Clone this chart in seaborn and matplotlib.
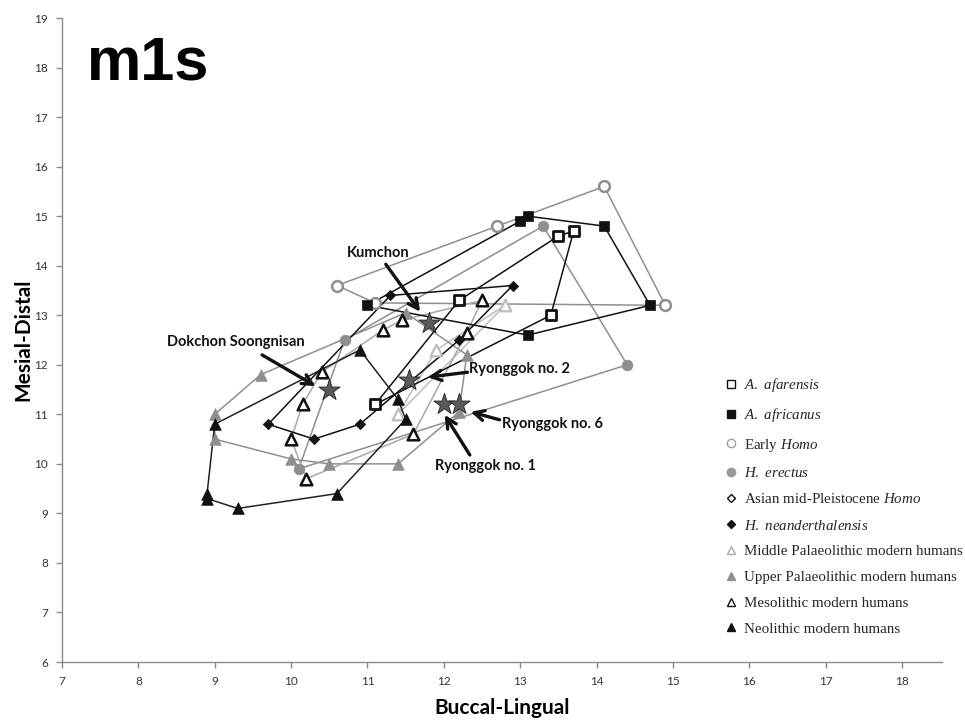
import matplotlib
matplotlib.use("Agg")
import matplotlib.pyplot as plt
import seaborn as sns
import numpy as np
import pandas as pd
from matplotlib.lines import Line2D

# Lower first molar (m1) crown diameters, mm.
# BL = buccal-lingual breadth, MD = mesial-distal length; each group is an outline in drawing order.
afarensis_bl = [11.1, 12.2, 13.5, 13.7, 13.4]
afarensis_md = [11.2, 13.3, 14.6, 14.7, 13.0]
africanus_bl = [11.0, 13.0, 13.1, 14.1, 14.7, 13.1]
africanus_md = [13.2, 14.9, 15.0, 14.8, 13.2, 12.6]
early_homo_bl = [10.6, 12.7, 14.1, 14.9, 11.1]
early_homo_md = [13.6, 14.8, 15.6, 13.2, 13.25]
erectus_bl = [10.7, 13.3, 14.4, 10.1]
erectus_md = [12.5, 14.8, 12.0, 9.9]
neander_bl = [9.7, 10.3, 10.9, 12.2, 12.9, 11.3]
neander_md = [10.8, 10.5, 10.8, 12.5, 13.6, 13.4]
mid_pal_bl = [11.4, 11.9, 12.8]
mid_pal_md = [11.0, 12.3, 13.2]
up_pal_bl = [9.0, 9.6, 11.5, 12.3, 12.2, 11.4, 10.5, 10.0, 9.0]
up_pal_md = [11.0, 11.8, 13.05, 12.2, 11.05, 10.0, 10.0, 10.1, 10.5]
meso_bl = [10.2, 10.0, 10.15, 10.4, 11.2, 11.45, 12.5, 12.3, 11.6]
meso_md = [9.7, 10.5, 11.2, 11.85, 12.7, 12.9, 13.3, 12.65, 10.6]
neo_bl = [9.0, 10.9, 11.4, 11.5, 10.6, 9.3, 8.9, 8.9]
neo_md = [10.8, 12.3, 11.3, 10.9, 9.4, 9.1, 9.3, 9.4]

# Korean specimens
specimens = ["Kumchon", "Dokchon Soongnisan", "Ryonggok no. 2", "Ryonggok no. 1", "Ryonggok no. 6"]
spec_bl = [11.8, 10.5, 11.55, 12.0, 12.2]
spec_md = [12.85, 11.5, 11.7, 11.2, 11.2]

legend_labels = [
    r"$\mathit{A.\ afarensis}$",
    r"$\mathit{A.\ africanus}$",
    r"Early $\mathit{Homo}$",
    r"$\mathit{H.\ erectus}$",
    r"Asian mid-Pleistocene $\mathit{Homo}$",
    r"$\mathit{H.\ neanderthalensis}$",
    "Middle Palaeolithic modern humans",
    "Upper Palaeolithic modern humans",
    "Mesolithic modern humans",
    "Neolithic modern humans",
]

sns.set_theme(style="ticks")
plt.rcParams["font.family"] = ["Lato", "DejaVu Sans"]
plt.rcParams["mathtext.fontset"] = "custom"
plt.rcParams["mathtext.it"] = "Liberation Serif:italic"
plt.rcParams["mathtext.rm"] = "Liberation Serif"

BLACK = "#111111"
GRAY = "#8f8f8f"
LIGHT = "#bdbdbd"

# (bl, md, marker, size, face, edge, edge width, line colour)
groups = [
    (early_homo_bl, early_homo_md, "o", 60, "white", GRAY, 1.8, GRAY),
    (erectus_bl, erectus_md, "o", 60, GRAY, GRAY, 0.5, GRAY),
    (mid_pal_bl, mid_pal_md, "^", 70, "white", LIGHT, 1.6, LIGHT),
    (up_pal_bl, up_pal_md, "^", 70, GRAY, GRAY, 0.5, GRAY),
    (meso_bl, meso_md, "^", 70, "white", BLACK, 1.8, "#a8a8a8"),
    (neo_bl, neo_md, "^", 70, BLACK, BLACK, 0.5, "#222222"),
    (neander_bl, neander_md, "D", 28, BLACK, BLACK, 0.5, BLACK),
    (africanus_bl, africanus_md, "s", 60, BLACK, BLACK, 0.5, BLACK),
    (afarensis_bl, afarensis_md, "s", 60, "white", BLACK, 2.0, BLACK),
]

fig = plt.figure(figsize=(9.65, 7.24), dpi=100)
ax = fig.add_axes([0.0642, 0.0856, 0.9118, 0.8895])

for bl, md, mk, sz, fc, ec, ew, lc in groups:
    loop = pd.DataFrame({"bl": list(bl) + [bl[0]], "md": list(md) + [md[0]]})
    sns.lineplot(data=loop, x="bl", y="md", sort=False, estimator=None,
                 color=lc, linewidth=1.1, ax=ax, zorder=2)
    sns.scatterplot(x=bl, y=md, marker=mk, s=sz, color=fc, edgecolor=ec,
                    linewidth=ew, ax=ax, zorder=3)

sns.scatterplot(x=spec_bl, y=spec_md, marker="*", s=260, color="#5a5a5a",
                edgecolor="#222222", linewidth=0.6, ax=ax, zorder=5)

# specimen labels with arrows: (label pos, arrow tail, arrow head, alignment)
notes = [
    ("Kumchon", (11.14, 14.26), (11.24, 14.03), (11.69, 13.07), "center"),
    ("Dokchon Soongnisan", (9.28, 12.46), (9.62, 12.20), (10.32, 11.57), "center"),
    ("Ryonggok no. 2", (12.33, 11.91), (12.31, 11.85), (11.79, 11.75), "left"),
    ("Ryonggok no. 6", (12.76, 10.80), (12.73, 10.89), (12.35, 11.05), "left"),
    ("Ryonggok no. 1", (11.88, 9.96), (12.34, 10.18), (12.01, 10.99), "left"),
]
for name, tpos, tail, head, ha in notes:
    ax.text(tpos[0], tpos[1], name, ha=ha, va="center", fontsize=10.5,
            fontweight="bold", color=BLACK, zorder=6)
    ax.annotate("", xy=head, xytext=tail,
                arrowprops=dict(arrowstyle="->,head_length=0.6,head_width=0.3",
                                color=BLACK, lw=2.4, shrinkA=0, shrinkB=0),
                zorder=6)

ax.set_xlim(7, 18.52)
ax.set_ylim(6, 19)
ax.set_xticks(range(7, 19))
ax.set_yticks(range(6, 20))
for side in ("top", "right"):
    ax.spines[side].set_visible(False)
for side in ("left", "bottom"):
    ax.spines[side].set_color("#8a8a8a")
    ax.spines[side].set_linewidth(1.0)
ax.tick_params(axis="both", direction="out", length=4, width=1, color="#8a8a8a",
               labelsize=8.5, labelcolor="#333333", pad=6)

ax.set_xlabel("Buccal-Lingual", fontsize=15, fontweight="bold", color="black")
ax.set_ylabel("Mesial-Distal", fontsize=15, fontweight="bold", color="black")
ax.xaxis.set_label_coords(0.5, (662 - 698) / 644)
ax.yaxis.set_label_coords((33 - 62) / 880, 0.5)

ax.text(0.028, 0.904, "m1s", transform=ax.transAxes, fontsize=44, color="black",
        fontweight="bold", family="Liberation Sans", va="baseline", ha="left")

handles = [
    Line2D([], [], ls="none", marker="s", ms=6, mfc="white", mec=BLACK, mew=1.0),
    Line2D([], [], ls="none", marker="s", ms=6, mfc=BLACK, mec=BLACK),
    Line2D([], [], ls="none", marker="o", ms=6, mfc="white", mec="#a0a0a0", mew=1.0),
    Line2D([], [], ls="none", marker="o", ms=6, mfc="#9a9a9a", mec="#9a9a9a"),
    Line2D([], [], ls="none", marker="D", ms=4.5, mfc="white", mec=BLACK, mew=1.0),
    Line2D([], [], ls="none", marker="D", ms=4.5, mfc=BLACK, mec=BLACK),
    Line2D([], [], ls="none", marker="^", ms=6, mfc="white", mec="#a8a8a8", mew=1.0),
    Line2D([], [], ls="none", marker="^", ms=6, mfc="#8f8f8f", mec="#8f8f8f"),
    Line2D([], [], ls="none", marker="^", ms=6, mfc="white", mec=BLACK, mew=1.0),
    Line2D([], [], ls="none", marker="^", ms=6, mfc=BLACK, mec=BLACK),
]
leg = ax.legend(handles, legend_labels, loc="upper left",
                bbox_to_anchor=((718 - 62) / 880, (662 - 370) / 644),
                frameon=False, handlelength=1.0, handletextpad=0.35,
                labelspacing=0.82, borderaxespad=0,
                prop={"family": "Liberation Serif", "size": 10.8})

fig.savefig("out.png", dpi=100)
